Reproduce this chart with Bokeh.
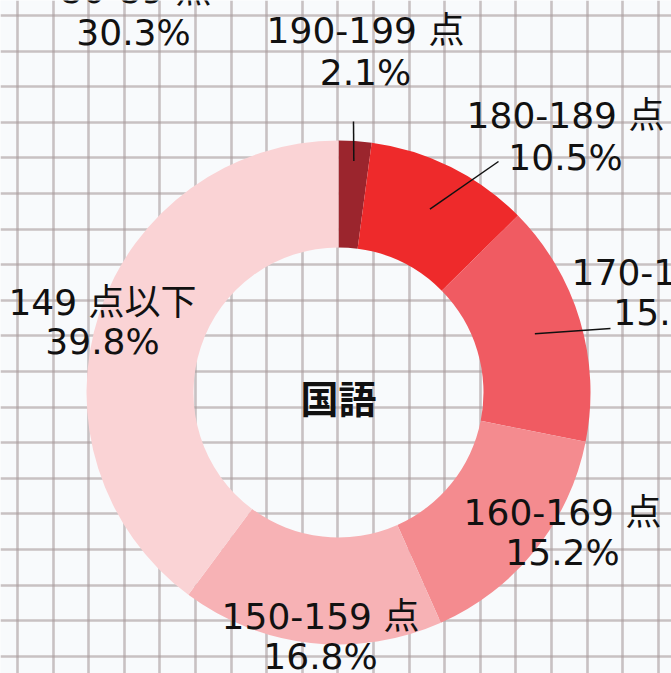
import numpy as np
from bokeh.plotting import figure
from bokeh.models import Range1d, FixedTicker, ColumnDataSource
from bokeh.core.properties import value
from bokeh.embed import file_html
from bokeh.resources import INLINE

# ---------------- data ----------------
title = "国語"
categories = ["190-199 点", "180-189 点", "170-179 点", "160-169 点", "150-159 点", "149 点以下"]
shares = [2.1, 10.5, 15.5, 15.2, 16.8, 39.8]
colors = ["#9b252d", "#ee2a2b", "#f05b62", "#f48b8f", "#f7b2b5", "#fad3d5"]
# fragment of the neighbouring chart visible at the top-left corner
other_label = "80-89 点"
other_share = 30.3

# ---------------- layout (picture pixels) ----------------
W, H = 671, 673
CX, CY = 338, 392            # donut centre in the picture
R_IN, R_OUT = 145, 252
label_x = [365, 565, 670, 562, 320, 102]
label_y1 = [30, 115, 272, 512, 616, 302]
label_y2 = [72, 157, 312, 552, 656, 341]
leader_r = [232, 205, 205, None, None, None]
leader_end = [(353, 121), (498, 161), (610, 328), None, None, None]


def X(px):
    return px - CX


def Y(py):
    return CY - py


p = figure(width=W, height=H,
           x_range=Range1d(0 - CX, W - CX),
           y_range=Range1d(CY - H, CY),
           output_backend="svg", toolbar_location=None, min_border=0,
           x_axis_location=None, y_axis_location=None)
p.background_fill_color = "#f8fafc"
p.border_fill_color = "#f8fafc"
p.outline_line_color = None

# graph-paper background
gx = [X(v) for v in np.arange(17, 690, 35.6)]
gy = [Y(v) for v in np.arange(15, 690, 35.6)]
p.xgrid.ticker = FixedTicker(ticks=gx)
p.ygrid.ticker = FixedTicker(ticks=gy)
for g in (p.xgrid, p.ygrid):
    g.grid_line_color = "#a99b9c"
    g.grid_line_width = 2.6
    g.grid_line_alpha = 0.6

# donut
frac = np.array(shares) / np.sum(shares)
cum = np.concatenate([[0.0], np.cumsum(frac)])
start = np.pi / 2 - 2 * np.pi * cum[:-1]
end = np.pi / 2 - 2 * np.pi * cum[1:]
mid = (start + end) / 2
src = ColumnDataSource(dict(start=start, end=end, color=colors, cat=categories))
p.annular_wedge(x=0, y=0, inner_radius=R_IN, outer_radius=R_OUT,
                start_angle="start", end_angle="end", direction="clock",
                fill_color="color", line_color=None, source=src)

# leader lines
for i in range(len(categories)):
    if leader_r[i] is None:
        continue
    sx = leader_r[i] * np.cos(mid[i])
    sy = leader_r[i] * np.sin(mid[i])
    ex, ey = leader_end[i]
    p.line(x=[sx, X(ex)], y=[sy, Y(ey)], line_color="#111111", line_width=1.5)

font = value("DejaVu Sans, Noto Sans CJK JP")
lx = [X(v) for v in label_x]
p.text(x=lx, y=[Y(v) for v in label_y1], text=categories,
       text_font=font, text_font_size="36px", text_color="#111111",
       text_align="center", text_baseline="middle")
p.text(x=lx, y=[Y(v) for v in label_y2], text=[f"{s:.1f}%" for s in shares],
       text_font=font, text_font_size="36px", text_color="#111111",
       text_align="center", text_baseline="middle")

# neighbouring chart fragment
p.text(x=[X(135), X(133)], y=[Y(-10), Y(32)], text=[other_label, f"{other_share:.1f}%"],
       text_font=font, text_font_size="36px", text_color="#111111",
       text_align="center", text_baseline="middle")

# centre title
p.text(x=[0], y=[Y(396)], text=[title], text_font=value("Noto Sans CJK JP"),
       text_font_size="38px", text_font_style="bold", text_color="#111111",
       text_align="center", text_baseline="middle")

open("out.html", "w").write(file_html(p, INLINE))
